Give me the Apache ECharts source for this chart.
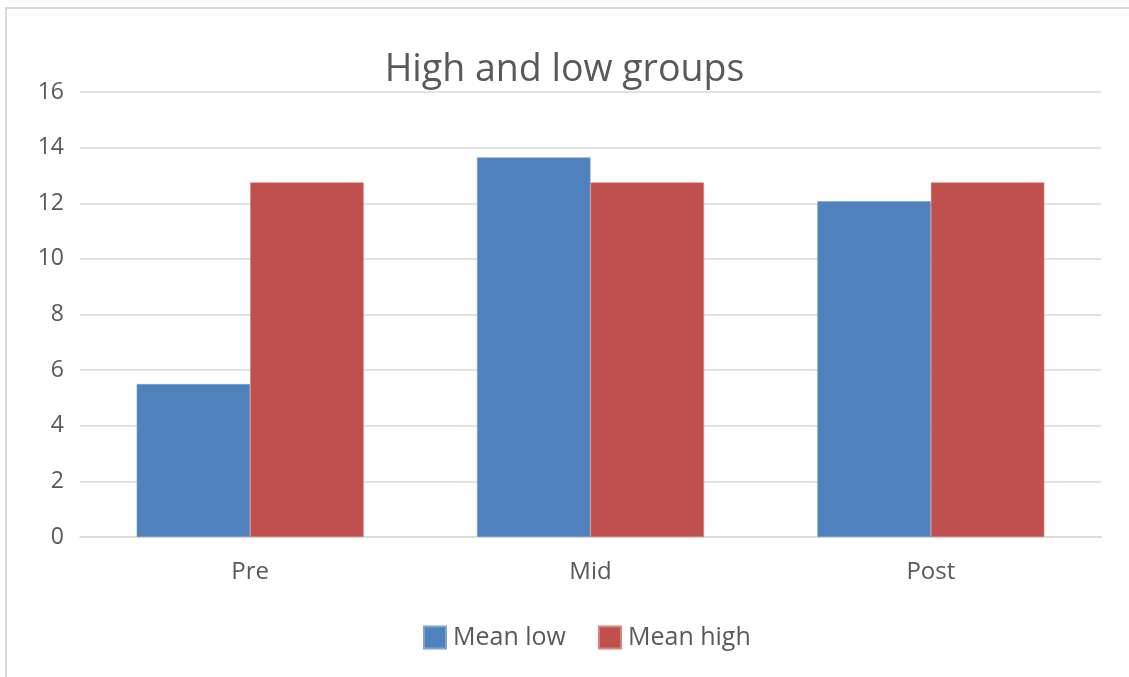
<!DOCTYPE html>
<html>
<head>
<meta charset="utf-8">
<script src="https://cdn.jsdelivr.net/npm/echarts@6/dist/echarts.min.js"></script>
<style>
html,body{margin:0;padding:0;background:#fff;}
#frame{position:absolute;left:5px;top:7px;width:1200px;height:700px;border:2px solid #d9d9d9;box-sizing:border-box;}
#c{position:absolute;left:0;top:0;width:1129px;height:677px;}
</style>
</head>
<body>
<div id="frame"></div>
<div id="c"></div>
<script>
const categories = ['Pre', 'Mid', 'Post'];
const meanLow = [5.5, 13.65, 12.07];
const meanHigh = [12.75, 12.75, 12.75];
const seriesNames = ['Mean low', 'Mean high'];

const chart = echarts.init(document.getElementById('c'), null, {renderer: 'canvas'});
const font = '"Open Sans", sans-serif';
chart.setOption({
  animation: false,
  title: {
    text: 'High and low groups',
    left: 'center',
    top: 46,
    textStyle: {fontFamily: font, fontSize: 37.5, fontWeight: 'normal', color: '#595959'}
  },
  legend: {
    data: seriesNames,
    bottom: 22,
    left: 418,
    itemWidth: 22,
    itemHeight: 22,
    itemGap: 32,
    icon: 'rect',
    textStyle: {fontFamily: font, fontSize: 25, color: '#595959', padding: [0, 0, 0, 2]}
  },
  grid: {left: 80, right: 28, top: 92, bottom: 140, containLabel: false},
  xAxis: {
    type: 'category',
    data: categories,
    axisLine: {lineStyle: {color: '#d9d9d9', width: 1.5}},
    axisTick: {show: false},
    axisLabel: {fontFamily: font, fontSize: 24, color: '#595959', margin: 23}
  },
  yAxis: {
    type: 'value',
    min: 0,
    max: 16,
    interval: 2,
    axisLine: {show: false},
    axisTick: {show: false},
    splitLine: {lineStyle: {color: '#d9d9d9', width: 1.5}},
    axisLabel: {fontFamily: font, fontSize: 23, color: '#595959', margin: 16}
  },
  series: [
    {
      name: seriesNames[0], type: 'bar', data: meanLow,
      barGap: '0%', barCategoryGap: '33.3%',
      itemStyle: {color: '#4F81BD', borderColor: '#7fa3d0', borderWidth: 0.6}
    },
    {
      name: seriesNames[1], type: 'bar', data: meanHigh,
      barGap: '0%', barCategoryGap: '33.3%',
      itemStyle: {color: '#C0504D', borderColor: '#d98280', borderWidth: 0.6}
    }
  ]
});
</script>
</body>
</html>
